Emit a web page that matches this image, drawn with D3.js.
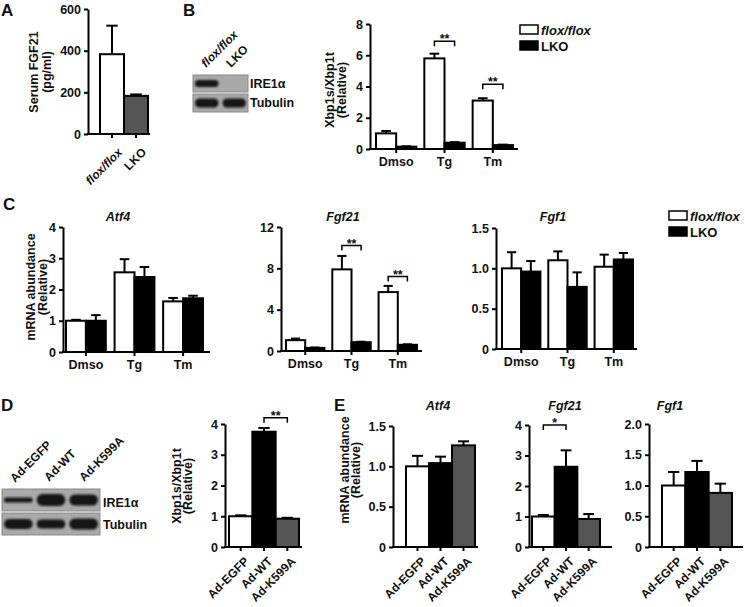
<!DOCTYPE html>
<html><head><meta charset="utf-8">
<script src="https://cdn.jsdelivr.net/npm/d3@7"></script>
<style>
body{margin:0;background:#fff;}
svg text{font-family:"Liberation Sans",Arial,Helvetica,sans-serif;font-weight:bold;fill:#111;}
</style></head><body>
<svg id="fig" width="745" height="607"></svg>
<script>
// ---------- DATA ----------
const genotypes = ["flox/flox", "LKO"];
const treatments = ["Dmso", "Tg", "Tm"];
const adenoviruses = ["Ad-EGFP", "Ad-WT", "Ad-K599A"];

// Panel A: serum FGF21 (pg/ml)
const serumFgf21 = [383, 183];
const serumFgf21Err = [137, 7];
const ticksA = [0, 200, 400, 600];

// Panel B: Xbp1s/Xbp1t
const xbp1Flox = [1.0, 5.8, 3.1];
const xbp1FloxErr = [0.15, 0.3, 0.15];
const xbp1Lko = [0.15, 0.4, 0.25];
const xbp1LkoErr = [0.02, 0.04, 0.03];
const ticksB = [0, 2, 4, 6, 8];
const sigB = [{group: "Tg", y: 6.9, label: "**"}, {group: "Tm", y: 4.15, label: "**"}];

// Panel C: mRNA abundance
const atf4Flox = [1.0, 2.55, 1.62];
const atf4FloxErr = [0.03, 0.42, 0.11];
const atf4Lko = [1.0, 2.4, 1.72];
const atf4LkoErr = [0.18, 0.32, 0.08];
const ticksCAtf4 = [0, 1, 2, 3, 4];

const fgf21Flox = [1.05, 7.9, 5.7];
const fgf21FloxErr = [0.15, 1.3, 0.6];
const fgf21Lko = [0.3, 0.85, 0.6];
const fgf21LkoErr = [0.04, 0.05, 0.05];
const ticksCFgf21 = [0, 4, 8, 12];
const sigCFgf21 = [{group: "Tg", y: 10.2, label: "**"}, {group: "Tm", y: 7.2, label: "**"}];

const fgf1Flox = [1.0, 1.1, 1.02];
const fgf1FloxErr = [0.2, 0.11, 0.15];
const fgf1Lko = [0.96, 0.77, 1.11];
const fgf1LkoErr = [0.13, 0.18, 0.08];
const ticksCFgf1 = [0, 0.5, 1.0, 1.5];

// Panel D: Xbp1s/Xbp1t with adenovirus
const xbp1Ad = [1.0, 3.75, 0.92];
const xbp1AdErr = [0.03, 0.12, 0.03];
const ticksD = [0, 1, 2, 3, 4];
const sigD = [{from: "Ad-WT", to: "Ad-K599A", y: 4.2, label: "**"}];

// Panel E
const atf4Ad = [1.0, 1.04, 1.26];
const atf4AdErr = [0.13, 0.08, 0.05];
const ticksEAtf4 = [0, 0.5, 1.0, 1.5];
const fgf21Ad = [1.0, 2.63, 0.92];
const fgf21AdErr = [0.05, 0.54, 0.16];
const ticksEFgf21 = [0, 1, 2, 3, 4];
const sigEFgf21 = [{from: "Ad-EGFP", to: "Ad-WT", y: 4.0, label: "*"}];
const fgf1Ad = [1.0, 1.22, 0.88];
const fgf1AdErr = [0.22, 0.18, 0.15];
const ticksEFgf1 = [0, 0.5, 1.0, 1.5, 2.0];

// ---------- STYLE ----------
const WHITE = "#ffffff", BLACK = "#000000", GRAY = "#555555";
const adFills = [WHITE, BLACK, GRAY];

const svg = d3.select("#fig");
svg.append("rect").attr("width", 745).attr("height", 607).attr("fill", "#fff");
const defs = svg.append("defs");
defs.append("filter").attr("id", "blur").attr("x", "-20%").attr("y", "-50%").attr("width", "140%").attr("height", "200%")
  .append("feGaussianBlur").attr("stdDeviation", 1.3);

const fmtInt = d => d3.format("d")(d);
const fmtDec = d => d === 0 ? "0" : d3.format(".1f")(d);

function barChart(o) {
  const g = svg.append("g");
  const y = d3.scaleLinear().domain([0, o.max]).range([o.axisY, o.topY]);
  const gx = d3.scaleBand().domain(o.groups).range(o.barRange).paddingInner(o.pad).paddingOuter(0);
  const ns = o.series.length;
  const sx = d3.scaleBand().domain(d3.range(ns)).range([0, gx.bandwidth()]);
  const bw = sx.bandwidth();

  o.series.forEach((s, si) => {
    o.groups.forEach((grp, gi) => {
      const x0 = gx(grp) + sx(si);
      const fill = Array.isArray(s.fill) ? s.fill[gi] : s.fill;
      const v = s.values[gi], e = s.errs[gi];
      const cx = x0 + bw / 2;
      g.append("line").attr("x1", cx).attr("x2", cx).attr("y1", y(v)).attr("y2", y(v + e))
        .attr("stroke", BLACK).attr("stroke-width", 2);
      g.append("line").attr("x1", cx - bw * 0.24).attr("x2", cx + bw * 0.24).attr("y1", y(v + e)).attr("y2", y(v + e))
        .attr("stroke", BLACK).attr("stroke-width", 2);
      g.append("rect").attr("x", x0).attr("y", y(v)).attr("width", bw).attr("height", o.axisY - y(v))
        .attr("fill", fill).attr("stroke", BLACK).attr("stroke-width", 2);
    });
  });

  const ya = g.append("g").attr("transform", `translate(${o.axisX},0)`)
    .call(d3.axisLeft(y).tickValues(o.ticks).tickFormat(o.fmt).tickSize(4).tickSizeOuter(0).tickPadding(3));
  ya.select(".domain").attr("stroke-width", 2).attr("stroke", BLACK);
  ya.selectAll(".tick line").attr("stroke-width", 2).attr("stroke", BLACK);
  ya.selectAll(".tick text").style("font-size", "12.5px").style("font-family", "Liberation Sans, Arial, sans-serif").style("font-weight", "bold").attr("fill", "#111");

  g.append("line").attr("x1", o.axisX - 1).attr("x2", o.axisEnd).attr("y1", o.axisY).attr("y2", o.axisY)
    .attr("stroke", BLACK).attr("stroke-width", 2);
  const xa = g.append("g").attr("transform", `translate(0,${o.axisY})`)
    .call(d3.axisBottom(gx).tickSize(4).tickSizeOuter(0).tickPadding(4));
  xa.select(".domain").remove();
  xa.selectAll(".tick line").attr("stroke-width", 2).attr("stroke", BLACK);
  xa.selectAll(".tick text").style("font-size", (o.rotFont || 12.5) + "px").style("font-family", "Liberation Sans, Arial, sans-serif")
    .style("font-weight", "bold").attr("fill", "#111")
    .style("font-style", o.italicX ? (d => o.italicX.includes(d) ? "italic" : "normal") : "normal");
  if (o.rotX) {
    xa.selectAll(".tick text")
      .attr("text-anchor", "end")
      .attr("y", 0).attr("dy", 0)
      .attr("transform", `translate(${o.rotDX || 9},${o.rotDY || 15}) rotate(-45)`);
  }

  if (o.title) {
    g.append("text").attr("x", o.titleX).attr("y", o.titleY).attr("text-anchor", "middle")
      .style("font-style", "italic").style("font-size", "12.5px").text(o.title);
  }

  (o.sig || []).forEach(s => {
    let x1, x2;
    if (s.group) {
      x1 = gx(s.group) + sx(0) + bw / 2;
      x2 = gx(s.group) + sx(1) + bw / 2;
    } else {
      x1 = gx(s.from) + bw / 2;
      x2 = gx(s.to) + bw / 2;
    }
    const yb = y(s.y);
    g.append("path").attr("d", `M${x1},${yb + 5}V${yb}H${x2}V${yb + 5}`)
      .attr("fill", "none").attr("stroke", BLACK).attr("stroke-width", 1.5);
    g.append("text").attr("x", (x1 + x2) / 2).attr("y", yb + 2).attr("text-anchor", "middle")
      .style("font-size", "12.5px").text(s.label);
  });
  return {g, y, gx};
}

function yTitle(lines, x1, x2, cy) {
  [x1, x2].forEach((x, i) => {
    svg.append("text").attr("transform", `translate(${x},${cy}) rotate(-90)`)
      .attr("text-anchor", "middle").style("font-size", "12.5px").text(lines[i]);
  });
}
function panelLabel(t, x, y) {
  svg.append("text").attr("x", x).attr("y", y).style("font-size", "17px").text(t);
}
function legend(x, y) {
  const items = [{label: genotypes[0], fill: WHITE, italic: true}, {label: genotypes[1], fill: BLACK, italic: false}];
  items.forEach((it, i) => {
    const yy = y + i * 16;
    svg.append("rect").attr("x", x).attr("y", yy).attr("width", 18).attr("height", 9)
      .attr("fill", it.fill).attr("stroke", BLACK).attr("stroke-width", 1.5);
    svg.append("text").attr("x", x + 21).attr("y", yy + 9.5).style("font-size", "13px")
      .style("font-style", it.italic ? "italic" : "normal").text(it.label);
  });
}

function blot(x, y, w, rows, lanes, bands) {
  rows.forEach((r, ri) => {
    const ry = y + r.dy;
    svg.append("rect").attr("x", x).attr("y", ry).attr("width", w).attr("height", r.h)
      .attr("fill", "#a9a9a9").attr("stroke", "#8a8a8a").attr("stroke-width", 1);
    bands[ri].forEach((b, li) => {
      if (b <= 0) return;
      const lw = w / lanes;
      svg.append("rect").attr("x", x + li * lw + 2).attr("y", ry + r.h / 2 - b / 2)
        .attr("width", lw - 4).attr("height", b).attr("rx", b / 2)
        .attr("fill", "#151515").attr("filter", "url(#blur)");
    });
  });
}

// ---------- PANEL A ----------
panelLabel("A", 1, 16);
barChart({
  axisX: 88, axisEnd: 150, axisY: 134, topY: 9, max: 600, ticks: ticksA, fmt: fmtInt,
  groups: genotypes, barRange: [100, 148], pad: 0,
  series: [{values: serumFgf21, errs: serumFgf21Err, fill: [WHITE, GRAY]}],
  rotX: true, rotDX: 11, rotDY: 19, rotFont: 12, italicX: ["flox/flox"]
});
yTitle(["Serum FGF21", "(pg/ml)"], 38, 51, 72);

// ---------- PANEL B ----------
panelLabel("B", 183, 16);
blot(193, 75, 55, [{dy: 0, h: 17}, {dy: 19, h: 18}], 2, [[7, 0], [9, 9]]);
svg.append("text").attr("transform", "translate(206,68) rotate(-45)").style("font-size", "12px").style("font-style", "italic").text(genotypes[0]);
svg.append("text").attr("transform", "translate(231,68) rotate(-45)").style("font-size", "12px").text(genotypes[1]);
svg.append("text").attr("x", 250).attr("y", 88).style("font-size", "12.5px").text("IRE1\u03b1");
svg.append("text").attr("x", 250).attr("y", 107).style("font-size", "12.5px").text("Tubulin");

barChart({
  axisX: 370, axisEnd: 518, axisY: 149, topY: 24, max: 8, ticks: ticksB, fmt: fmtInt,
  groups: treatments, barRange: [376, 513], pad: 0.165,
  series: [{values: xbp1Flox, errs: xbp1FloxErr, fill: WHITE}, {values: xbp1Lko, errs: xbp1LkoErr, fill: BLACK}],
  sig: sigB
});
yTitle(["Xbp1s/Xbp1t", "(Relative)"], 334, 346, 90);
legend(520, 25);

// ---------- PANEL C ----------
panelLabel("C", 3, 210);
barChart({
  axisX: 63, axisEnd: 210, axisY: 352, topY: 227, max: 4, ticks: ticksCAtf4, fmt: fmtInt,
  groups: treatments, barRange: [66, 203], pad: 0.18,
  series: [{values: atf4Flox, errs: atf4FloxErr, fill: WHITE}, {values: atf4Lko, errs: atf4LkoErr, fill: BLACK}],
  title: "Atf4", titleX: 118, titleY: 221
});
yTitle(["mRNA abundance", "(Relative)"], 35, 47, 287);

barChart({
  axisX: 281, axisEnd: 422, axisY: 351, topY: 227, max: 12, ticks: ticksCFgf21, fmt: fmtInt,
  groups: treatments, barRange: [286, 417], pad: 0.17,
  series: [{values: fgf21Flox, errs: fgf21FloxErr, fill: WHITE}, {values: fgf21Lko, errs: fgf21LkoErr, fill: BLACK}],
  title: "Fgf21", titleX: 343, titleY: 221, sig: sigCFgf21
});

barChart({
  axisX: 496, axisEnd: 637, axisY: 349, topY: 228, max: 1.5, ticks: ticksCFgf1, fmt: fmtDec,
  groups: treatments, barRange: [502, 633], pad: 0.17,
  series: [{values: fgf1Flox, errs: fgf1FloxErr, fill: WHITE}, {values: fgf1Lko, errs: fgf1LkoErr, fill: BLACK}],
  title: "Fgf1", titleX: 553, titleY: 221
});
legend(669, 211);

// ---------- PANEL D ----------
panelLabel("D", 1, 411);
blot(2, 489, 98, [{dy: 0, h: 22}, {dy: 24, h: 22}], 3, [[5, 12, 11], [10, 9, 11]]);
[[15, 483], [49, 482], [84, 482]].forEach((p, i) => {
  svg.append("text").attr("transform", `translate(${p[0]},${p[1]}) rotate(-45)`).style("font-size", "12px").text(adenoviruses[i]);
});
svg.append("text").attr("x", 103).attr("y", 507).style("font-size", "12.5px").text("IRE1\u03b1");
svg.append("text").attr("x", 103).attr("y", 529).style("font-size", "12.5px").text("Tubulin");

barChart({
  axisX: 225, axisEnd: 302, axisY: 547, topY: 424, max: 4, ticks: ticksD, fmt: fmtInt,
  groups: adenoviruses, barRange: [229, 299], pad: 0,
  series: [{values: xbp1Ad, errs: xbp1AdErr, fill: adFills}],
  rotX: true, rotFont: 12, sig: sigD
});
yTitle(["Xbp1s/Xbp1t", "(Relative)"], 181, 192, 486);

// ---------- PANEL E ----------
panelLabel("E", 334, 411);
barChart({
  axisX: 393, axisEnd: 478, axisY: 547, topY: 426, max: 1.5, ticks: ticksEAtf4, fmt: fmtDec,
  groups: adenoviruses, barRange: [406, 475], pad: 0,
  series: [{values: atf4Ad, errs: atf4AdErr, fill: adFills}],
  rotX: true, rotFont: 12, title: "Atf4", titleX: 438, titleY: 410
});
barChart({
  axisX: 529, axisEnd: 612, axisY: 547, topY: 425, max: 4, ticks: ticksEFgf21, fmt: fmtInt,
  groups: adenoviruses, barRange: [532, 600], pad: 0,
  series: [{values: fgf21Ad, errs: fgf21AdErr, fill: adFills}],
  rotX: true, rotFont: 12, title: "Fgf21", titleX: 565, titleY: 410, sig: sigEFgf21
});
barChart({
  axisX: 649, axisEnd: 743, axisY: 547, topY: 424, max: 2, ticks: ticksEFgf1, fmt: fmtDec,
  groups: adenoviruses, barRange: [662, 732], pad: 0,
  series: [{values: fgf1Ad, errs: fgf1AdErr, fill: adFills}],
  rotX: true, rotFont: 12, title: "Fgf1", titleX: 670, titleY: 410
});
yTitle(["mRNA abundance", "(Relative)"], 349, 360, 470);
</script>
</body></html>
